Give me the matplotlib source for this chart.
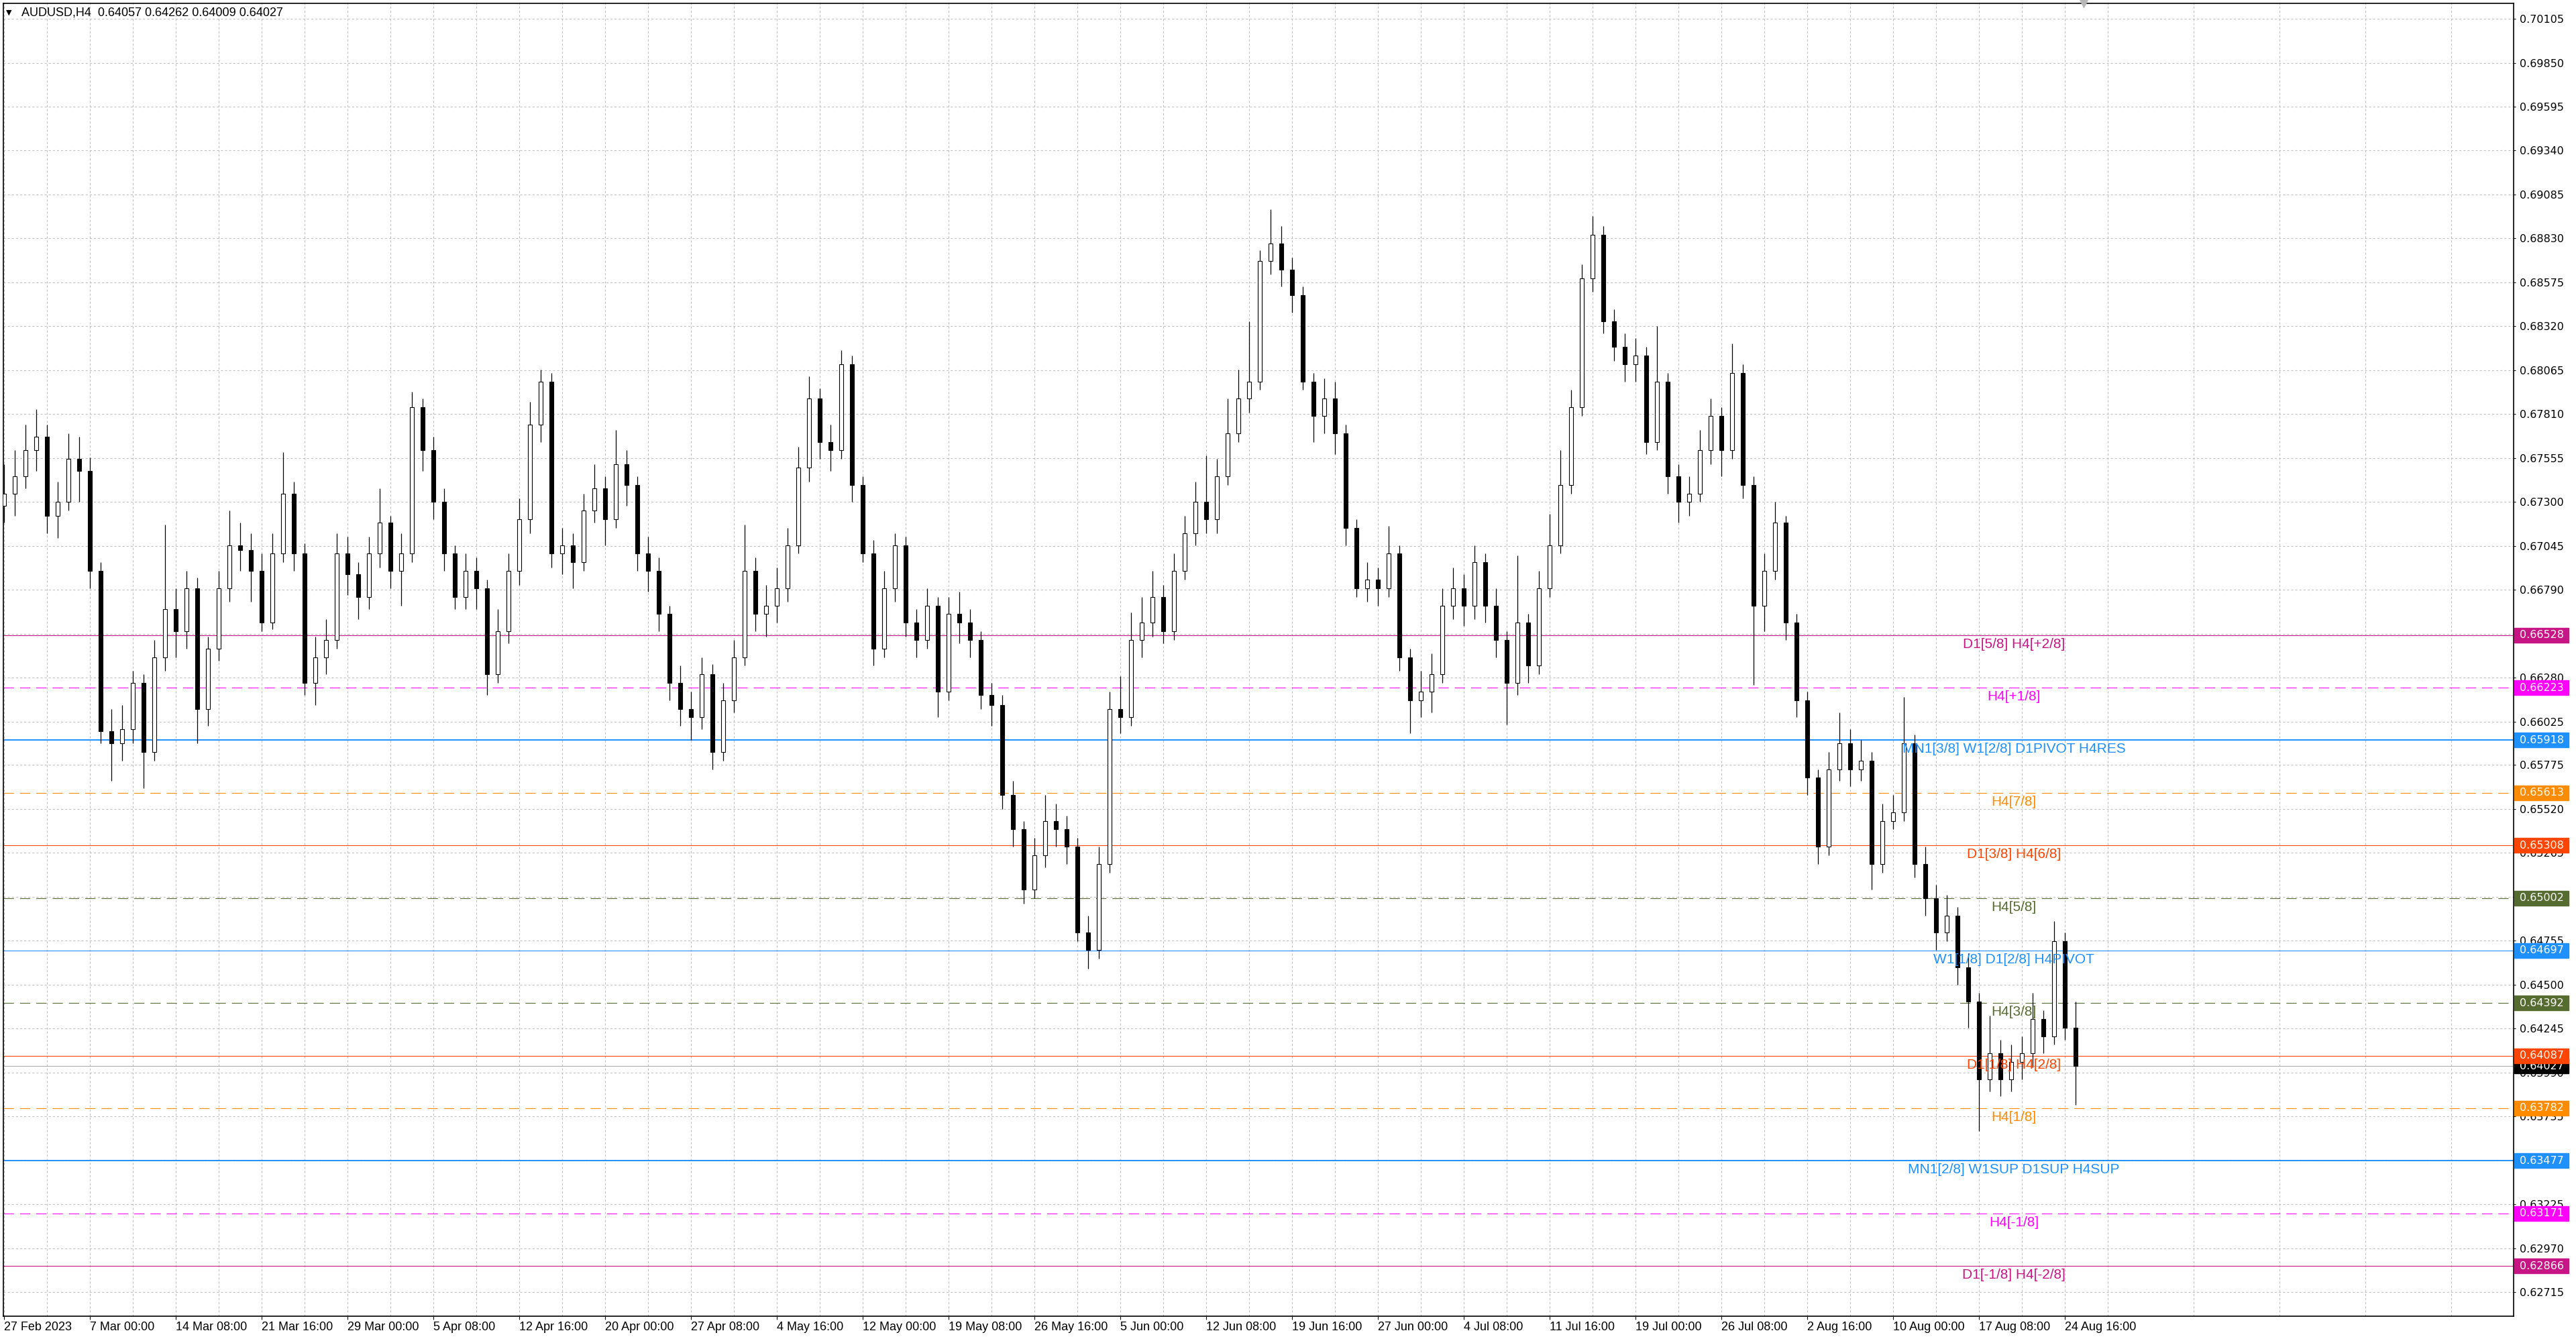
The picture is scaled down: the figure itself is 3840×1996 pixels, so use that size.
import numpy as np
import matplotlib.pyplot as plt
import matplotlib.transforms as mtransforms
from matplotlib.patches import Rectangle

plt.rcParams['lines.scale_dashes'] = False

# header
symbol = "AUDUSD,H4"
last_ohlc = ["0.64057", "0.64262", "0.64009", "0.64027"]

# price path, one candle per 4 H4 bars
first_open = 0.6728
closes = [
    0.6735, 0.6745, 0.6760, 0.6768, 0.6722, 0.6730, 0.6755, 0.6748, 0.6690, 0.6597,
    0.6590, 0.6598, 0.6625, 0.6585, 0.6640, 0.6668, 0.6655, 0.6680, 0.6610, 0.6645,
    0.6680, 0.6705, 0.6702, 0.6690, 0.6660, 0.6700, 0.6735, 0.6700, 0.6625, 0.6640,
    0.6650, 0.6700, 0.6688, 0.6675, 0.6700, 0.6718, 0.6690, 0.6700, 0.6785, 0.6760,
    0.6730, 0.6700, 0.6675, 0.6690, 0.6680, 0.6630, 0.6655, 0.6690, 0.6720, 0.6775,
    0.6800, 0.6700, 0.6705, 0.6695, 0.6725, 0.6738, 0.6720, 0.6752, 0.6740, 0.6700,
    0.6690, 0.6665, 0.6625, 0.6610, 0.6605, 0.6630, 0.6585, 0.6615, 0.6640, 0.6690,
    0.6665, 0.6670, 0.6680, 0.6705, 0.6750, 0.6790, 0.6765, 0.6760, 0.6810, 0.6740,
    0.6700, 0.6645, 0.6680, 0.6705, 0.6660, 0.6650, 0.6670, 0.6620, 0.6665, 0.6660,
    0.6650, 0.6618, 0.6612, 0.6560, 0.6540, 0.6505, 0.6525, 0.6545, 0.6540, 0.6530,
    0.6480, 0.6470, 0.6520, 0.6610, 0.6605, 0.6650, 0.6660, 0.6675, 0.6655, 0.6690,
    0.6712, 0.6730, 0.6720, 0.6745, 0.6770, 0.6790, 0.6800, 0.6870, 0.6880, 0.6865,
    0.6850, 0.6800, 0.6780, 0.6790, 0.6770, 0.6715, 0.6680, 0.6685, 0.6680, 0.6700,
    0.6640, 0.6615, 0.6620, 0.6630, 0.6670, 0.6680, 0.6670, 0.6695, 0.6670, 0.6650,
    0.6625, 0.6660, 0.6635, 0.6680, 0.6705, 0.6740, 0.6785, 0.6860, 0.6885, 0.6835,
    0.6820, 0.6810, 0.6815, 0.6765, 0.6800, 0.6745, 0.6730, 0.6735, 0.6760, 0.6780,
    0.6760, 0.6805, 0.6740, 0.6670, 0.6690, 0.6718, 0.6660, 0.6615, 0.6570, 0.6530,
    0.6575, 0.6590, 0.6575, 0.6580, 0.6520, 0.6545, 0.6550, 0.6590, 0.6520, 0.6500,
    0.6480, 0.6490, 0.6460, 0.6440, 0.6395, 0.6410, 0.6395, 0.6405, 0.6410, 0.6430,
    0.6420, 0.6475, 0.6425, 0.64027,
]
highs = [
    0.6752, 0.6760, 0.6775, 0.6784, 0.6775, 0.6742, 0.6770, 0.6768, 0.6756, 0.6695,
    0.6610, 0.6612, 0.6632, 0.6630, 0.6650, 0.6717, 0.6680, 0.6690, 0.6686, 0.6652,
    0.6690, 0.6725, 0.6718, 0.6712, 0.6700, 0.6712, 0.6759, 0.6742, 0.6706, 0.6652,
    0.6662, 0.6712, 0.6710, 0.6695, 0.6710, 0.6738, 0.6722, 0.6712, 0.6794, 0.6790,
    0.6768, 0.6738, 0.6705, 0.6700, 0.6698, 0.6685, 0.6668, 0.6700, 0.6732, 0.6788,
    0.6807, 0.6805, 0.6715, 0.6712, 0.6735, 0.6752, 0.6745, 0.6772, 0.6760, 0.6745,
    0.6710, 0.6698, 0.6670, 0.6635, 0.6620, 0.6640, 0.6636, 0.6625, 0.6650, 0.6717,
    0.6698, 0.6682, 0.6692, 0.6715, 0.6762, 0.6803, 0.6796, 0.6775, 0.6818, 0.6815,
    0.6745, 0.6708, 0.6690, 0.6712, 0.6710, 0.6668, 0.6680, 0.6675, 0.6675, 0.6678,
    0.6668, 0.6655, 0.6625, 0.6618, 0.6568, 0.6545, 0.6535, 0.6560, 0.6555, 0.6548,
    0.6535, 0.6490, 0.6530, 0.6620, 0.6629, 0.6666, 0.6675, 0.6690, 0.6682, 0.6700,
    0.6722, 0.6742, 0.6757, 0.6755, 0.6790, 0.6807, 0.6835, 0.6876, 0.6900, 0.6890,
    0.6872, 0.6855, 0.6805, 0.6802, 0.6800, 0.6775, 0.6720, 0.6695, 0.6692, 0.6716,
    0.6705, 0.6645, 0.6632, 0.6642, 0.6680, 0.6692, 0.6688, 0.6705, 0.6700, 0.6680,
    0.6655, 0.6699, 0.6665, 0.6690, 0.6723, 0.6760, 0.6795, 0.6868, 0.6896, 0.6890,
    0.6842, 0.6828, 0.6825, 0.6820, 0.6832, 0.6805, 0.6752, 0.6745, 0.6772, 0.6790,
    0.6785, 0.6822, 0.6810, 0.6745, 0.6700, 0.6730, 0.6722, 0.6665, 0.6620, 0.6575,
    0.6585, 0.6608, 0.6598, 0.6592, 0.6585, 0.6555, 0.6560, 0.6617, 0.6595, 0.6530,
    0.6508, 0.6502, 0.6495, 0.6468, 0.6445, 0.6432, 0.6418, 0.6415, 0.6420, 0.6445,
    0.6435, 0.6487, 0.6480, 0.6440,
]
lows = [
    0.6718, 0.6722, 0.6738, 0.6748, 0.6712, 0.6709, 0.6725, 0.6730, 0.6680, 0.6590,
    0.6568, 0.6580, 0.6590, 0.6564, 0.6580, 0.6632, 0.6640, 0.6645, 0.6590, 0.6600,
    0.6638, 0.6672, 0.6690, 0.6672, 0.6655, 0.6656, 0.6695, 0.6690, 0.6618, 0.6612,
    0.6630, 0.6645, 0.6676, 0.6662, 0.6668, 0.6692, 0.6680, 0.6670, 0.6695, 0.6748,
    0.6720, 0.6690, 0.6668, 0.6668, 0.6668, 0.6618, 0.6625, 0.6648, 0.6682, 0.6712,
    0.6765, 0.6692, 0.6688, 0.6680, 0.6690, 0.6718, 0.6705, 0.6715, 0.6728, 0.6690,
    0.6678, 0.6655, 0.6615, 0.6600, 0.6592, 0.6598, 0.6575, 0.6580, 0.6608, 0.6635,
    0.6655, 0.6652, 0.6660, 0.6672, 0.6700, 0.6742, 0.6755, 0.6748, 0.6755, 0.6730,
    0.6695, 0.6635, 0.6640, 0.6672, 0.6652, 0.6640, 0.6645, 0.6605, 0.6615, 0.6648,
    0.6640, 0.6610, 0.6600, 0.6552, 0.6530, 0.6497, 0.6500, 0.6518, 0.6530, 0.6520,
    0.6475, 0.6459, 0.6465, 0.6515, 0.6596, 0.6600, 0.6640, 0.6652, 0.6648, 0.6650,
    0.6685, 0.6705, 0.6712, 0.6712, 0.6740, 0.6765, 0.6782, 0.6795, 0.6862, 0.6855,
    0.6840, 0.6795, 0.6765, 0.6770, 0.6758, 0.6705, 0.6675, 0.6672, 0.6670, 0.6675,
    0.6632, 0.6596, 0.6605, 0.6608, 0.6625, 0.6662, 0.6658, 0.6662, 0.6660, 0.6640,
    0.6601, 0.6618, 0.6625, 0.6630, 0.6675, 0.6700, 0.6735, 0.6780, 0.6852, 0.6828,
    0.6812, 0.6800, 0.6800, 0.6758, 0.6760, 0.6735, 0.6718, 0.6722, 0.6730, 0.6752,
    0.6745, 0.6755, 0.6732, 0.6624, 0.6655, 0.6685, 0.6650, 0.6605, 0.6560, 0.6520,
    0.6525, 0.6568, 0.6565, 0.6568, 0.6505, 0.6515, 0.6540, 0.6545, 0.6512, 0.6490,
    0.6470, 0.6475, 0.6450, 0.6425, 0.6365, 0.6388, 0.6385, 0.6388, 0.6395, 0.6402,
    0.6410, 0.6415, 0.6418, 0.6380,
]

date_labels = ["27 Feb 2023", "7 Mar 00:00", "14 Mar 08:00", "21 Mar 16:00", "29 Mar 00:00",
               "5 Apr 08:00", "12 Apr 16:00", "20 Apr 00:00", "27 Apr 08:00", "4 May 16:00",
               "12 May 00:00", "19 May 08:00", "26 May 16:00", "5 Jun 00:00", "12 Jun 08:00",
               "19 Jun 16:00", "27 Jun 00:00", "4 Jul 08:00", "11 Jul 16:00", "19 Jul 00:00",
               "26 Jul 08:00", "2 Aug 16:00", "10 Aug 00:00", "17 Aug 08:00", "24 Aug 16:00"]

price_ticks = [0.70105, 0.69850, 0.69595, 0.69340, 0.69085, 0.68830, 0.68575, 0.68320,
               0.68065, 0.67810, 0.67555, 0.67300, 0.67045, 0.66790, 0.66535, 0.66280,
               0.66025, 0.65775, 0.65520, 0.65265, 0.65010, 0.64755, 0.64500, 0.64245,
               0.63990, 0.63735, 0.63480, 0.63225, 0.62970, 0.62715]

# murrey math levels
level_prices = [0.66528, 0.66223, 0.65918, 0.65613, 0.65308, 0.65002, 0.64697,
                0.64392, 0.64087, 0.63782, 0.63477, 0.63171, 0.62866]
level_names = ["D1[5/8] H4[+2/8]", "H4[+1/8]", "MN1[3/8] W1[2/8] D1PIVOT H4RES", "H4[7/8]",
               "D1[3/8] H4[6/8]", "H4[5/8]", "W1[1/8] D1[2/8] H4PIVOT", "H4[3/8]",
               "D1[1/8] H4[2/8]", "H4[1/8]", "MN1[2/8] W1SUP D1SUP H4SUP", "H4[-1/8]",
               "D1[-1/8] H4[-2/8]"]
level_colors = ["#C71585", "#FF00FF", "#1E90FF", "#FF8C00", "#FF4500", "#556B2F", "#1E90FF",
                "#556B2F", "#FF4500", "#FF8C00", "#1E90FF", "#FF00FF", "#C71585"]
level_dashed = [False, True, False, True, False, True, False, True, False, True, False, True, False]
level_lw = [0.8, 0.8, 1.4, 0.8, 0.8, 0.8, 0.8, 0.8, 0.8, 0.8, 1.4, 0.8, 0.8]
current_price = 0.64027

W, H = 3840, 1996
fig = plt.figure(figsize=(W / 100, H / 100), dpi=100)
fig.patch.set_facecolor('white')
ax_w = 3741.5
ax_h = 1957
ax = fig.add_axes([5 / W, 34 / H, ax_w / W, ax_h / H])
ymin, ymax = 0.625748, 0.701946
ax.set_xlim(-0.25, 935.1)
ax.set_ylim(ymin, ymax)
px = ax_h / (ymax - ymin)   # pixels per price unit

# grid
ax.set_yticks(price_ticks)
ax.set_yticklabels(["%.5f" % p for p in price_ticks])
ax.set_xticks(np.arange(0, 769, 32))
ax.set_xticklabels(date_labels, ha='left', family='Liberation Sans', fontsize=13)
ax.set_xticks(np.arange(16, 936, 32), minor=True)
ax.grid(True, which='both', color='#C0C0C0', linestyle=(0, (2.2, 2.2)), lw=0.8)
ax.yaxis.tick_right()
ax.tick_params(axis='y', which='major', length=2.2, width=0.8, pad=4.6, labelsize=11.5)
ax.tick_params(axis='x', which='major', length=3.6, width=0.8, pad=2)
ax.tick_params(which='minor', length=0)
for s in ax.spines.values():
    s.set_linewidth(1.2)
    s.set_color('black')

# candles
closes = np.array(closes)
opens = np.concatenate([[first_open], closes[:-1]])
highs = np.array(highs)
lows = np.array(lows)
xs = np.arange(len(closes)) * 4
up = closes >= opens
body_lo = np.minimum(opens, closes)
body_h = np.maximum(np.abs(closes - opens), 0.00003)
ax.vlines(xs, lows, highs, color='black', lw=0.9, zorder=3)
ax.bar(xs, body_h, bottom=body_lo, width=1.7, color=np.where(up, 'white', 'black'),
       edgecolor='black', linewidth=0.8, zorder=4)

# levels
tr = mtransforms.blended_transform_factory(ax.transAxes, ax.transData)
bh = 22 / px
ax.axhline(current_price, color='#B0B0B0', lw=0.8, zorder=2)
ax.add_patch(Rectangle((1 + 2 / ax_w, current_price - bh / 2), 80 / ax_w, bh, transform=tr,
                       color='black', clip_on=False, zorder=6))
ax.text(1 + 9.5 / ax_w, current_price, "%.5f" % current_price, transform=tr, color='white',
        fontsize=11.5, va='center', ha='left', zorder=7, clip_on=False)
for p, name, col, dash, lw in zip(level_prices, level_names, level_colors, level_dashed, level_lw):
    ls = (0, (11, 6.5)) if dash else '-'
    ax.axhline(p, color=col, lw=lw, linestyle=ls, zorder=2)
    ax.text(749, p - 4 / px, name, color=col, ha='center', va='top',
            family='Liberation Sans', fontsize=15, zorder=5)
    ax.add_patch(Rectangle((1 + 2 / ax_w, p - bh / 2), 80 / ax_w, bh, transform=tr,
                           color=col, clip_on=False, zorder=8))
    ax.text(1 + 9.5 / ax_w, p, "%.5f" % p, transform=tr, color='white',
            fontsize=11.5, va='center', ha='left', zorder=9, clip_on=False)

# chart shift marker
ax.plot([775], [1.0], transform=mtransforms.blended_transform_factory(ax.transData, ax.transAxes),
        marker='v', ms=9, color='#B8B8B8', clip_on=False, zorder=10)

# header
fig.text(9 / W, 1 - 19 / H, "\u25bc", fontsize=8, va='center', ha='left')
fig.text(32 / W, 1 - 19 / H, symbol + "  " + " ".join(last_ohlc), fontsize=13,
         family='Liberation Sans', va='center', ha='left')

fig.savefig("out.png", dpi=100)
